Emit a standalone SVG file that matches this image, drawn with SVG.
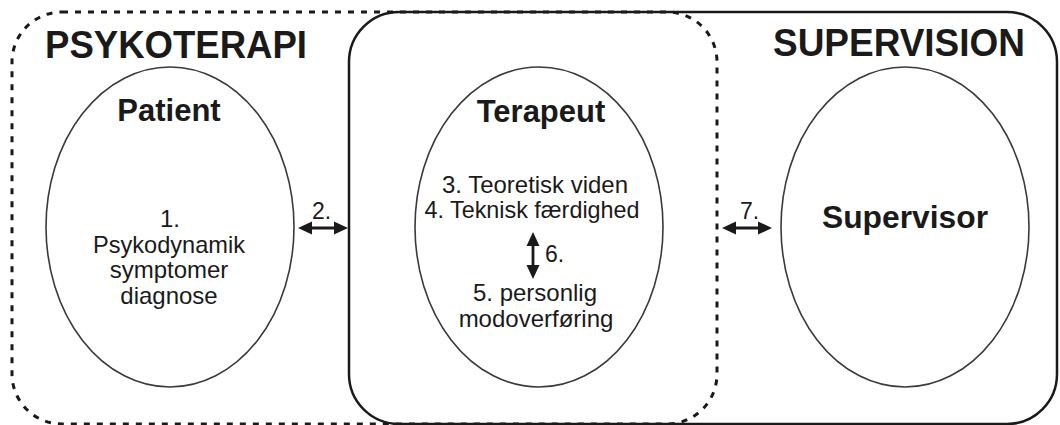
<svg xmlns="http://www.w3.org/2000/svg" width="1060" height="425" viewBox="0 0 1060 425">
<defs>
<style>
.bg{fill:#ffffff}
.dotted{fill:none;stroke:#1a1a1a;stroke-width:3;stroke-dasharray:6 7}
.solid{fill:none;stroke:#1a1a1a;stroke-width:2.5}
.ell{fill:#ffffff;stroke:#3a3a3a;stroke-width:1.6}
.title{font-family:"Liberation Sans",Arial,sans-serif;font-weight:bold;font-size:38px;fill:#1a1a1a}
.name{font-family:"Liberation Sans",Arial,sans-serif;font-weight:bold;font-size:31px;fill:#1a1a1a;text-anchor:middle}
.txt{font-family:"Liberation Sans",Arial,sans-serif;font-size:24px;fill:#1a1a1a;text-anchor:middle}
.lbl{font-family:"Liberation Sans",Arial,sans-serif;font-size:23px;fill:#1a1a1a}
.arr{fill:none;stroke:#1a1a1a;stroke-width:2.8;marker-start:url(#ah);marker-end:url(#ah)}
</style>
<marker id="ah" markerUnits="userSpaceOnUse" markerWidth="15" markerHeight="14" refX="9" refY="6.5" orient="auto-start-reverse" viewBox="0 0 15 13">
<path d="M0,0 L14,6.5 L0,13 Z" fill="#1a1a1a"/>
</marker>
</defs>
<rect class="bg" x="0" y="0" width="1060" height="425"/>

<g id="psykoterapi">
<rect class="dotted" x="12" y="12" width="705" height="412" rx="50" ry="50"/>
<text class="title" x="45" y="58" textLength="262" lengthAdjust="spacingAndGlyphs">PSYKOTERAPI</text>
</g>

<g id="supervision">
<rect class="solid" x="349" y="12" width="708" height="412" rx="50" ry="50"/>
<text class="title" x="773" y="56" textLength="252" lengthAdjust="spacingAndGlyphs">SUPERVISION</text>
</g>

<g id="patient">
<ellipse class="ell" cx="170" cy="227" rx="124" ry="160"/>
<text class="name" x="169" y="121">Patient</text>
<text class="txt" x="170" y="227">1.</text>
<text class="txt" x="169" y="253" textLength="152" lengthAdjust="spacingAndGlyphs">Psykodynamik</text>
<text class="txt" x="169" y="278">symptomer</text>
<text class="txt" x="169" y="304">diagnose</text>
</g>

<g id="terapeut">
<ellipse class="ell" cx="539" cy="227" rx="124" ry="160"/>
<text class="name" x="541" y="122">Terapeut</text>
<text class="txt" x="535" y="193" textLength="186" lengthAdjust="spacingAndGlyphs">3. Teoretisk viden</text>
<text class="txt" x="532" y="218" textLength="215" lengthAdjust="spacingAndGlyphs">4. Teknisk færdighed</text>
<text class="txt" x="535" y="301">5. personlig</text>
<text class="txt" x="536" y="327">modoverføring</text>
</g>

<g id="supervisor">
<ellipse class="ell" cx="905" cy="227" rx="124" ry="160"/>
<text class="name" x="905" y="228" textLength="166" lengthAdjust="spacingAndGlyphs">Supervisor</text>
</g>

<g id="connectors">
<line class="arr" x1="303" y1="228" x2="343" y2="228"/>
<text class="lbl" x="312" y="219">2.</text>
<line class="arr" x1="727" y1="228" x2="767" y2="228"/>
<text class="lbl" x="740" y="219">7.</text>
<line class="arr" x1="533" y1="237" x2="533" y2="274"/>
<text class="lbl" x="545" y="262">6.</text>
</g>
</svg>
